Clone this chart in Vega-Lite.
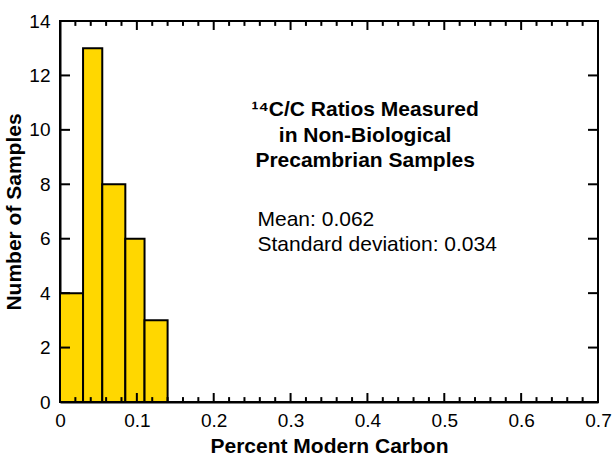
{
  "$schema": "https://vega.github.io/schema/vega-lite/v6.json",
  "width": 538,
  "height": 381,
  "autosize": {"type": "none"},
  "padding": {"left": 60, "top": 21, "right": 15, "bottom": 55},
  "background": "white",
  "config": {
    "font": "Liberation Sans",
    "view": {"stroke": "black", "strokeWidth": 2},
    "axis": {
      "grid": false,
      "domain": true,
      "domainColor": "black",
      "domainWidth": 2,
      "ticks": true,
      "tickSize": 0,
      "tickOpacity": 0,
      "labelColor": "black",
      "labelFont": "Liberation Sans",
      "labelFontSize": 19,
      "titleFont": "Liberation Sans",
      "titleFontSize": 21,
      "titleFontWeight": "bold",
      "titleColor": "black"
    }
  },
  "datasets": {
    "bins": [
      {"x0": 0, "x1": 0.03, "count": 4},
      {"x0": 0.03, "x1": 0.055, "count": 13},
      {"x0": 0.055, "x1": 0.085, "count": 8},
      {"x0": 0.085, "x1": 0.11, "count": 6},
      {"x0": 0.11, "x1": 0.14, "count": 3}
    ],
    "xMajor": [{"v": 0.1}, {"v": 0.2}, {"v": 0.3}, {"v": 0.4}, {"v": 0.5}, {"v": 0.6}],
    "xMinor": [{"v": 0.02}, {"v": 0.04}, {"v": 0.06}, {"v": 0.08}, {"v": 0.12}, {"v": 0.14}, {"v": 0.16}, {"v": 0.18}, {"v": 0.22}, {"v": 0.24}, {"v": 0.26}, {"v": 0.28}, {"v": 0.32}, {"v": 0.34}, {"v": 0.36}, {"v": 0.38}, {"v": 0.42}, {"v": 0.44}, {"v": 0.46}, {"v": 0.48}, {"v": 0.52}, {"v": 0.54}, {"v": 0.56}, {"v": 0.58}, {"v": 0.62}, {"v": 0.64}, {"v": 0.66}, {"v": 0.68}],
    "yMajor": [{"v": 2}, {"v": 4}, {"v": 6}, {"v": 8}, {"v": 10}, {"v": 12}],
    "heading": [
      {"x": 0.397, "y": 10.51, "t": "¹⁴C/C Ratios Measured"},
      {"x": 0.397, "y": 9.55, "t": "in Non-Biological"},
      {"x": 0.397, "y": 8.64, "t": "Precambrian Samples"}
    ],
    "stats": [
      {"x": 0.257, "y": 6.47, "t": "Mean: 0.062"},
      {"x": 0.257, "y": 5.55, "t": "Standard deviation: 0.034"}
    ]
  },
  "layer": [
    {
      "data": {"name": "bins"},
      "mark": {"type": "bar", "fill": "#FFD700", "stroke": "black", "strokeWidth": 2},
      "encoding": {
        "x": {
          "field": "x0",
          "type": "quantitative",
          "scale": {"domain": [0, 0.7], "nice": false, "zero": false},
          "axis": {
            "orient": "bottom",
            "title": "Percent Modern Carbon",
            "values": [0, 0.1, 0.2, 0.3, 0.4, 0.5, 0.6, 0.7],
            "format": ".1~f",
            "labelPadding": 9,
            "labelFlush": false,
            "labelOverlap": false,
            "titlePadding": 5
          }
        },
        "x2": {"field": "x1"},
        "y": {
          "field": "count",
          "type": "quantitative",
          "scale": {"domain": [0, 14], "nice": false},
          "axis": {
            "orient": "left",
            "title": "Number of Samples",
            "values": [0, 2, 4, 6, 8, 10, 12, 14],
            "labelPadding": 10,
            "labelOverlap": false,
            "titlePadding": 4
          }
        },
        "y2": {"datum": 0}
      }
    },
    {
      "data": {"name": "xMajor"},
      "mark": {"type": "rule", "color": "black", "strokeWidth": 2},
      "encoding": {
        "x": {"field": "v", "type": "quantitative"},
        "y": {"datum": 0, "type": "quantitative"},
        "y2": {"datum": 0.33}
      }
    },
    {
      "data": {"name": "xMajor"},
      "mark": {"type": "rule", "color": "black", "strokeWidth": 2},
      "encoding": {
        "x": {"field": "v", "type": "quantitative"},
        "y": {"datum": 14, "type": "quantitative"},
        "y2": {"datum": 13.67}
      }
    },
    {
      "data": {"name": "xMinor"},
      "mark": {"type": "rule", "color": "black", "strokeWidth": 2},
      "encoding": {
        "x": {"field": "v", "type": "quantitative"},
        "y": {"datum": 0, "type": "quantitative"},
        "y2": {"datum": 0.18}
      }
    },
    {
      "data": {"name": "xMinor"},
      "mark": {"type": "rule", "color": "black", "strokeWidth": 2},
      "encoding": {
        "x": {"field": "v", "type": "quantitative"},
        "y": {"datum": 14, "type": "quantitative"},
        "y2": {"datum": 13.82}
      }
    },
    {
      "data": {"name": "yMajor"},
      "mark": {"type": "rule", "color": "black", "strokeWidth": 2},
      "encoding": {
        "y": {"field": "v", "type": "quantitative"},
        "x": {"datum": 0, "type": "quantitative"},
        "x2": {"datum": 0.013}
      }
    },
    {
      "data": {"name": "yMajor"},
      "mark": {"type": "rule", "color": "black", "strokeWidth": 2},
      "encoding": {
        "y": {"field": "v", "type": "quantitative"},
        "x": {"datum": 0.7, "type": "quantitative"},
        "x2": {"datum": 0.687}
      }
    },
    {
      "data": {"name": "heading"},
      "mark": {"type": "text", "align": "center", "baseline": "alphabetic", "fontWeight": "bold", "fontSize": 21, "color": "black"},
      "encoding": {
        "x": {"field": "x", "type": "quantitative"},
        "y": {"field": "y", "type": "quantitative"},
        "text": {"field": "t"}
      }
    },
    {
      "data": {"name": "stats"},
      "mark": {"type": "text", "align": "left", "baseline": "alphabetic", "fontSize": 21, "color": "black"},
      "encoding": {
        "x": {"field": "x", "type": "quantitative"},
        "y": {"field": "y", "type": "quantitative"},
        "text": {"field": "t"}
      }
    }
  ]
}
